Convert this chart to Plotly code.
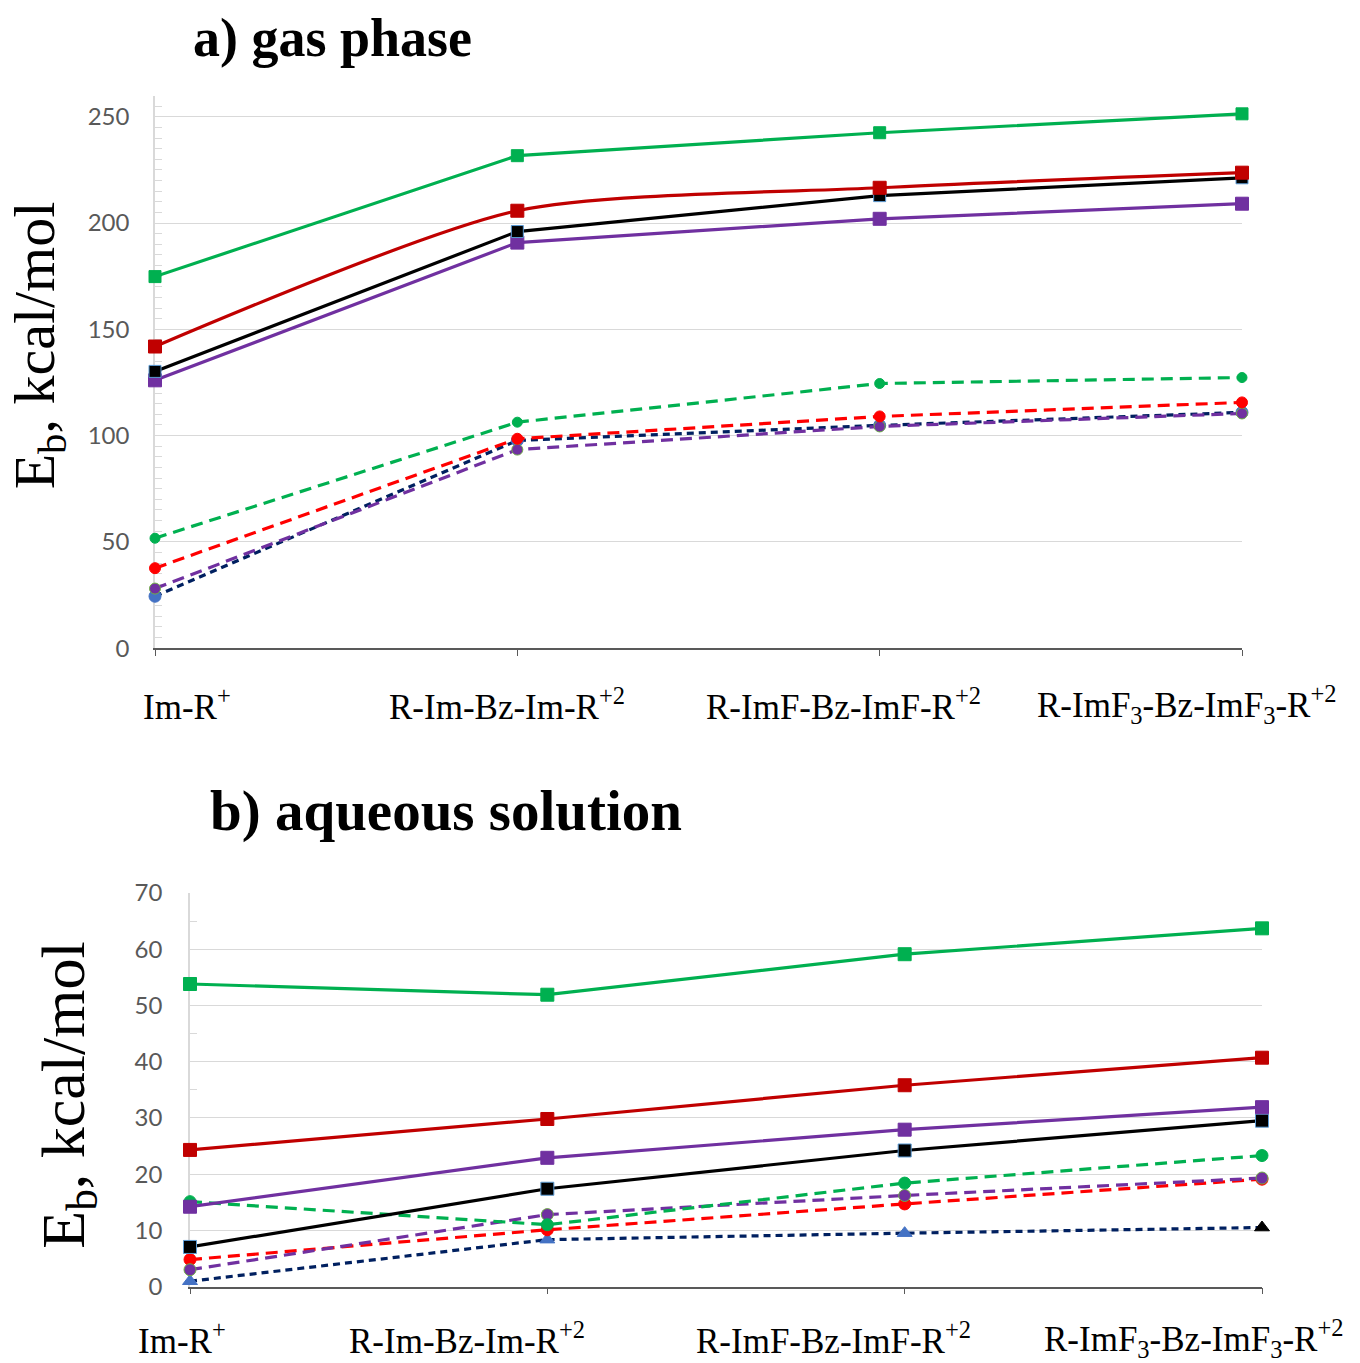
import plotly.graph_objects as go

categories = ["Im-R<sup>+</sup>", "R-Im-Bz-Im-R<sup>+2</sup>", "R-ImF-Bz-ImF-R<sup>+2</sup>",
              "R-ImF<sub>3</sub>-Bz-ImF<sub>3</sub>-R<sup>+2</sup>"]
xpos = [0, 1, 2, 3]

# a) gas phase
gas_green_solid = [174.8, 231.7, 242.5, 251.4]
gas_red_solid = [141.9, 205.8, 216.6, 223.7]
gas_black_solid = [130.2, 196.0, 212.9, 221.3]
gas_purple_solid = [126.0, 190.8, 202.0, 209.1]
gas_green_dash = [51.7, 106.3, 124.5, 127.3]
gas_red_dash = [37.6, 98.5, 109.0, 115.6]
gas_purple_dash = [28.0, 93.4, 104.3, 110.4]
gas_navy_dash = [24.4, 97.7, 104.8, 110.9]

# b) aqueous solution
aq_green_solid = [53.8, 51.9, 59.1, 63.7]
aq_red_solid = [24.3, 29.8, 35.8, 40.7]
aq_purple_solid = [14.2, 22.9, 27.9, 31.9]
aq_black_solid = [7.05, 17.4, 24.2, 29.5]
aq_green_dash = [15.1, 11.0, 18.4, 23.3]
aq_purple_dash = [3.0, 12.8, 16.2, 19.3]
aq_red_dash = [4.8, 10.1, 14.7, 19.1]
aq_navy_dash = [0.95, 8.35, 9.5, 10.5]

GREEN = "#00B050"
DRED = "#C00000"
BLACK = "#000000"
PURPLE = "#7030A0"
RED = "#FF0000"
NAVY = "#002060"
BLUE = "#4472C4"

fig = go.Figure()

def add(x, y, color, dash, symbol, mcolor, mline, xa, ya, size, shape="linear"):
    fig.add_trace(go.Scatter(
        x=x, y=y, mode="lines+markers", xaxis=xa, yaxis=ya, cliponaxis=False,
        line=dict(color=color, width=3.2, dash=dash, shape=shape, smoothing=0.7),
        marker=dict(symbol=symbol, size=size, color=mcolor,
                    line=dict(color=mline, width=1)),
        showlegend=False, hoverinfo="skip"))

LD = "12px,7px"
SD = "7px,5px"

# top panel: dashed first, solid on top
add(xpos, gas_navy_dash, NAVY, SD, "circle", BLUE, BLUE, "x", "y", 12)
add(xpos, gas_purple_dash, PURPLE, LD, "circle", PURPLE, "#70AD47", "x", "y", 11)
add(xpos, gas_red_dash, RED, LD, "circle", RED, RED, "x", "y", 11)
add(xpos, gas_green_dash, GREEN, LD, "circle", GREEN, GREEN, "x", "y", 10)
add(xpos, gas_purple_solid, PURPLE, "solid", "square", PURPLE, PURPLE, "x", "y", 13)
add(xpos, gas_black_solid, BLACK, "solid", "square", BLACK, "#5B9BD5", "x", "y", 12)
add(xpos, gas_red_solid, DRED, "solid", "square", DRED, DRED, "x", "y", 13, "spline")
add(xpos, gas_green_solid, GREEN, "solid", "square", GREEN, GREEN, "x", "y", 12)

# bottom panel
add(xpos, aq_navy_dash, NAVY, SD, "triangle-up", [BLUE, BLUE, BLUE, BLACK],
    [BLUE, BLUE, BLUE, BLACK], "x2", "y2", 13)
add(xpos, aq_red_dash, RED, LD, "circle", RED, RED, "x2", "y2", 12)
add(xpos, aq_purple_dash, PURPLE, LD, "circle", PURPLE, "#70AD47", "x2", "y2", 12)
add(xpos, aq_green_dash, GREEN, LD, "circle", GREEN, GREEN, "x2", "y2", 12)
add(xpos, aq_black_solid, BLACK, "solid", "square", BLACK, "#5B9BD5", "x2", "y2", 13)
add(xpos, aq_purple_solid, PURPLE, "solid", "square", PURPLE, PURPLE, "x2", "y2", 13)
add(xpos, aq_red_solid, DRED, "solid", "square", DRED, DRED, "x2", "y2", 13)
add(xpos, aq_green_solid, GREEN, "solid", "square", GREEN, GREEN, "x2", "y2", 13)

W, H = 1360, 1363
# vertical mapping from picture pixels to paper fraction (compensates page offset)
def py(p):
    return 1 - ((p - 15.4) / 0.9795) / H

tickfont = dict(family="Lato, Liberation Sans, Arial", size=24, color="#595959")

def xaxis(domain, anchor):
    return dict(domain=domain, anchor=anchor, range=[0, 3], tickvals=xpos,
                showticklabels=False, showgrid=False, zeroline=False,
                showline=True, linecolor="#595959", linewidth=1.5,
                ticks="outside", ticklen=6, tickcolor="#595959", tickwidth=1,
                layer="below traces")

def yaxis(domain, anchor, rng, dtick, minor_dtick, standoff):
    return dict(domain=domain, anchor=anchor, range=rng, dtick=dtick,
                showgrid=True, gridcolor="#D9D9D9", gridwidth=1.2, zeroline=False,
                showline=True, linecolor="#D9D9D9", linewidth=1.5,
                ticks="inside", ticklen=7, tickcolor="#D9D9D9",
                minor=dict(dtick=minor_dtick, ticks="inside",
                           ticklen=7, tickcolor="#D9D9D9", showgrid=False),
                tickfont=tickfont, ticklabelstandoff=standoff, layer="below traces")

fig.update_layout(
    width=W, height=H, margin=dict(l=0, r=0, t=0, b=0),
    paper_bgcolor="white", plot_bgcolor="white",
    xaxis=xaxis([155 / W, 1242 / W], "y"),
    yaxis=yaxis([py(648), py(95)], "x", [0, 260], 50, 5, 19),
    xaxis2=xaxis([190 / W, 1262 / W], "y2"),
    yaxis2=yaxis([py(1287), py(893)], "x2", [0, 70], 10, 5, 21),
)

serif = "Liberation Serif, Times New Roman"
ann = []
ann.append(dict(text="<b>a) gas phase</b>", x=332 / W, y=py(37), xref="paper", yref="paper",
                xanchor="center", yanchor="middle", showarrow=False,
                font=dict(family=serif, size=54, color="black")))
ann.append(dict(text="<b>b) aqueous solution</b>", x=446 / W, y=py(811), xref="paper",
                yref="paper", xanchor="center", yanchor="middle", showarrow=False,
                font=dict(family=serif, size=57, color="black")))
ann.append(dict(text="E<sub>b</sub>, kcal/mol", x=38 / W, y=py(345), xref="paper",
                yref="paper", xanchor="center", yanchor="middle", textangle=-90,
                showarrow=False, font=dict(family=serif, size=58, color="black")))
ann.append(dict(text="E<sub>b</sub>, kcal/mol", x=68 / W, y=py(1095), xref="paper",
                yref="paper", xanchor="center", yanchor="middle", textangle=-90,
                showarrow=False, font=dict(family=serif, size=62, color="black")))

top_label_centers = [187, 507, 843, 1186]
bot_label_centers = [182, 467, 833, 1193]
for i, c in enumerate(categories):
    ann.append(dict(text=c, x=top_label_centers[i] / W, y=py(704), xref="paper",
                    yref="paper", xanchor="center", yanchor="middle", showarrow=False,
                    font=dict(family=serif, size=35, color="black")))
    ann.append(dict(text=c, x=bot_label_centers[i] / W, y=py(1339), xref="paper",
                    yref="paper", xanchor="center", yanchor="middle", showarrow=False,
                    font=dict(family=serif, size=35, color="black")))
fig.update_layout(annotations=ann)

fig.write_html("out.html", config={"displayModeBar": False},
               post_script="document.body.style.margin='0';document.body.style.overflow='hidden';")
